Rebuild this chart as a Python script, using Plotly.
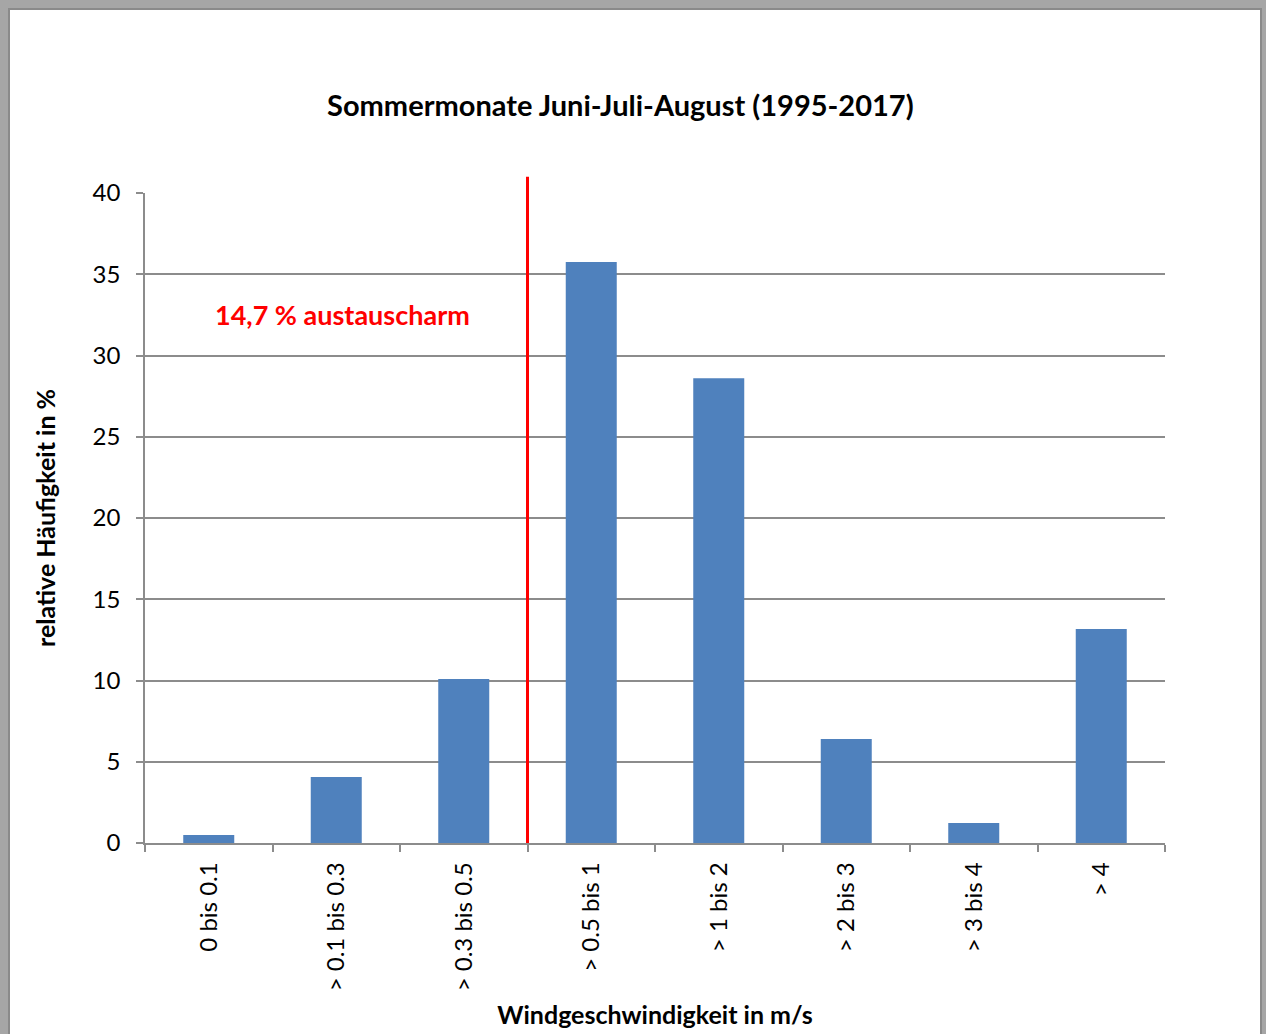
import plotly.graph_objects as go

# relative frequency of wind speed classes, summer months 1995-2017
categories = ["0 bis 0.1", "> 0.1 bis 0.3", "> 0.3 bis 0.5", "> 0.5 bis 1",
              "> 1 bis 2", "> 2 bis 3", "> 3 bis 4", "> 4"]
values = [0.49, 4.06, 10.09, 35.75, 28.6, 6.4, 1.23, 13.17]
y_ticks = [0, 5, 10, 15, 20, 25, 30, 35, 40]
n_calm = 3  # first three classes count as "austauscharm"

FONT = "Lato, 'Open Sans', sans-serif"
GRID = "#8c8c8c"

# plot area in pixels (for the frame shape)
L, R, T, B = 145, 101, 193, 191
W, H = 1266, 1034
pw, ph = W - L - R, H - T - B

fig = go.Figure(go.Bar(
    x=categories, y=values,
    marker=dict(color="#4f81bd", line=dict(width=0)),
    width=0.4,
))

fig.update_layout(
    width=W, height=H,
    margin=dict(l=L, r=R, t=T, b=B, autoexpand=False),
    paper_bgcolor="#a6a6a6",
    plot_bgcolor="rgba(0,0,0,0)",
    showlegend=False,
    font=dict(family=FONT, size=24, color="black"),
    title=dict(text="<b>Sommermonate Juni-Juli-August (1995-2017)</b>",
               x=0.49, xanchor="center", y=1 - 106 / H, yanchor="middle",
               font=dict(size=29)),
)

fig.update_xaxes(
    type="category", range=[-0.5, len(categories) - 0.5],
    automargin=False,
    tickangle=-90, tickson="boundaries",
    ticks="outside", ticklen=7, tickwidth=1.5, tickcolor=GRID,
    ticklabelstandoff=8,
    showline=True, linecolor=GRID, linewidth=1.5,
    showgrid=False,
    tickfont=dict(size=24),
    title=dict(text="<b>Windgeschwindigkeit in m/s</b>", standoff=16,
               font=dict(size=25)),
)

fig.update_yaxes(
    range=[0, 40], tickvals=y_ticks,
    automargin=False,
    ticks="outside", ticklen=7, tickwidth=1.5, tickcolor=GRID,
    ticklabelstandoff=11,
    showline=True, linecolor=GRID, linewidth=1.5,
    showgrid=True, gridcolor=GRID, gridwidth=1.5,
    zeroline=False,
    tickfont=dict(size=24),
    title=dict(text="<b>relative Häufigkeit in %</b>", standoff=30,
               font=dict(size=25)),
)

# white chart sheet on grey background
fig.add_shape(type="rect", xref="paper", yref="paper", layer="below",
              x0=(9 - L) / pw, x1=(1261 - L) / pw,
              y0=(T + ph - 1040) / ph, y1=(T + ph - 9) / ph,
              fillcolor="white", line=dict(color="#8a8a8a", width=2))

# threshold line between low-exchange classes and the rest
fig.add_shape(type="line", xref="x", yref="paper",
              x0=n_calm - 0.5, x1=n_calm - 0.5, y0=0, y1=1.025,
              line=dict(color="red", width=3))

fig.add_annotation(x=1.05, y=32.5, xref="x", yref="y",
                   text="<b>14,7 % austauscharm</b>", showarrow=False,
                   font=dict(color="red", size=27))

fig.write_html("out.html", config={"displayModeBar": False},
               post_script="document.body.style.margin='0';")
